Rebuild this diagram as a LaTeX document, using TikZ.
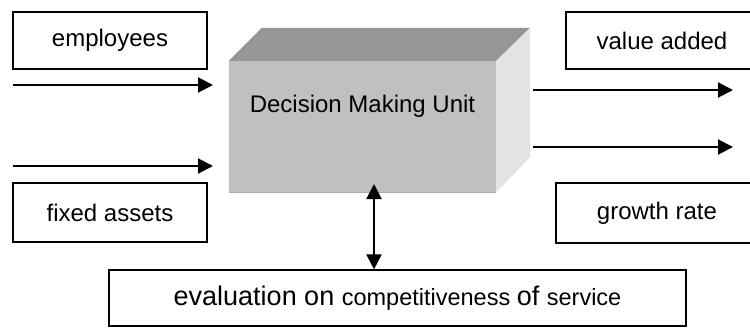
\documentclass[tikz,border=0pt]{standalone}
\usepackage{fontspec}
\setmainfont{Liberation Sans}
\usetikzlibrary{arrows.meta}
\definecolor{dmufront}{HTML}{C0C0C0}
\definecolor{dmutop}{HTML}{969696}
\definecolor{dmuside}{HTML}{E3E3E3}
\definecolor{dmuedge}{HTML}{ABABAB}
\newcommand\evbig{\fontsize{27}{32}\selectfont}
\newcommand\evsmall{\fontsize{23.5}{32}\selectfont}

\begin{document}
\begin{tikzpicture}[x=1pt,y=-1pt,
  box/.style={draw,line width=1.2pt,inner sep=0pt,font=\fontsize{24}{28}\selectfont},
  flow/.style={line width=2pt,-{Triangle[length=15pt,width=15pt]}},
  both/.style={line width=2pt,{Triangle[length=15pt,width=15pt]}-{Triangle[length=15pt,width=15pt]}}]
\useasboundingbox (0,0) rectangle (750,327);
\clip (0,0) rectangle (750,327);

\node[box,minimum width=194,minimum height=57] (emp) at (110,40.5) {employees};
\node[box,minimum width=194,minimum height=59] (fix) at (110,212.5) {fixed assets};
\node[box,minimum width=192,minimum height=57] (val) at (662,40.5) {value added};
\node[box,minimum width=202,minimum height=60] (gro) at (657,213) {growth rate};
\node[box,minimum width=577,minimum height=56] (eval) at (397.5,298)
  {\evbig evaluation on \evsmall competitiveness \evbig of \evsmall service};

\node[fill=dmufront,inner sep=0pt,minimum width=267,text height=51pt,text depth=80pt,
  font=\fontsize{24}{28}\selectfont] (dmu) at (362.5,126.5) {Decision Making Unit};
\fill[dmutop] (dmu.north west) -- ([shift={(33,-33)}]dmu.north west)
  -- ([shift={(34,-33)}]dmu.north east) -- (dmu.north east) -- cycle;
\fill[dmuside] (dmu.north east) -- ([shift={(34,-33)}]dmu.north east)
  -- ([shift={(34,-35)}]dmu.south east) -- (dmu.south east) -- cycle;
\draw[dmuedge,line width=1.2pt] (dmu.south west) -- (dmu.south east);

\coordinate (e1) at (13,85);
\coordinate (e2) at (213,85);
\coordinate (f1) at (13,166);
\coordinate (f2) at (213,166);
\coordinate (v1) at (533,90);
\coordinate (v2) at (733,90);
\coordinate (g1) at (533,147);
\coordinate (g2) at (733,147);
\coordinate (d1) at (374,184);

\draw[flow] (e1) -- (e2);
\draw[flow] (f1) -- (f2);
\draw[flow] (v1) -- (v2);
\draw[flow] (g1) -- (g2);
\draw[both] (eval.north -| d1) -- (d1);
\end{tikzpicture}
\end{document}
